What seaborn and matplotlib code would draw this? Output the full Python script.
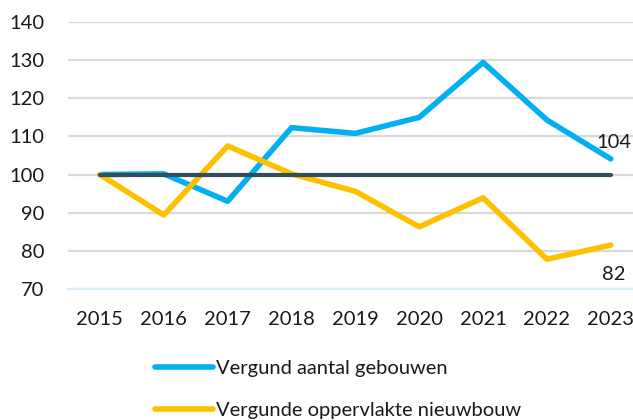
import pandas as pd
import seaborn as sns
import matplotlib.pyplot as plt

# index values (2015 = 100)
years = [2015, 2016, 2017, 2018, 2019, 2020, 2021, 2022, 2023]
aantal_gebouwen = [100, 100.2, 93.0, 112.3, 110.8, 115.0, 129.4, 114.3, 104.1]
oppervlakte_nieuwbouw = [100, 89.4, 107.5, 100.2, 95.6, 86.3, 93.9, 77.8, 81.5]
basis = [100] * len(years)

label_aantal = "Vergund aantal gebouwen"
label_opp = "Vergunde oppervlakte nieuwbouw"

df = pd.DataFrame({"jaar": years,
                   "aantal": aantal_gebouwen,
                   "opp": oppervlakte_nieuwbouw,
                   "basis": basis})

sns.set_style("white")
plt.rcParams["font.family"] = ["Lato", "DejaVu Sans"]

fig = plt.figure(figsize=(6.33, 4.2), dpi=100)
ax = fig.add_axes([0.1074, 0.3119, 0.908, 0.6357])

blue = "#00b0f0"
yellow = "#ffc000"
dark = "#314e5d"
fs = 14.5

sns.lineplot(data=df, x="jaar", y="aantal", ax=ax, color=blue, linewidth=4,
             label=label_aantal, solid_capstyle="round", zorder=3)
sns.lineplot(data=df, x="jaar", y="opp", ax=ax, color=yellow, linewidth=4,
             label=label_opp, solid_capstyle="round", zorder=3)
sns.lineplot(data=df, x="jaar", y="basis", ax=ax, color=dark, linewidth=3,
             legend=False, zorder=4)

ax.set_xlim(2014.5, 2023.5)
ax.set_ylim(70, 140)
ax.set_xticks(years)
ax.set_yticks(range(70, 141, 10))
ax.set(xlabel="", ylabel="")

# grid lines and axis look
ax.yaxis.grid(True, color="#d9d9d9", linewidth=1.6)
ax.xaxis.grid(False)
ax.set_axisbelow(True)
sns.despine(ax=ax, left=True, right=True, top=True)
ax.spines["bottom"].set_color("#dbeef8")
ax.spines["bottom"].set_linewidth(1.6)
ax.tick_params(axis="y", length=0, pad=17, labelsize=fs, labelcolor="#1a1a1a")
ax.tick_params(axis="x", length=0, pad=16, labelsize=fs, labelcolor="#1a1a1a")

# end value labels
ax.text(2022.78, aantal_gebouwen[-1] + 4.4, f"{aantal_gebouwen[-1]:.0f}",
        fontsize=fs, color="#1a1a1a", ha="left", va="center", clip_on=False)
ax.text(2022.86, oppervlakte_nieuwbouw[-1] - 7.8, f"{oppervlakte_nieuwbouw[-1]:.0f}",
        fontsize=fs, color="#1a1a1a", ha="left", va="center", clip_on=False)

# legend below the plot, stacked
handles, labels = ax.get_legend_handles_labels()
ax.get_legend().remove()
fig.legend(handles, labels, loc="upper left", bbox_to_anchor=(155 / 633, 1 - 360 / 420),
           frameon=False, fontsize=fs, borderpad=0, borderaxespad=0,
           handlelength=2.9, handletextpad=0.15, labelspacing=1.25,
           labelcolor="#1a1a1a")

fig.savefig("out.png", dpi=100)
